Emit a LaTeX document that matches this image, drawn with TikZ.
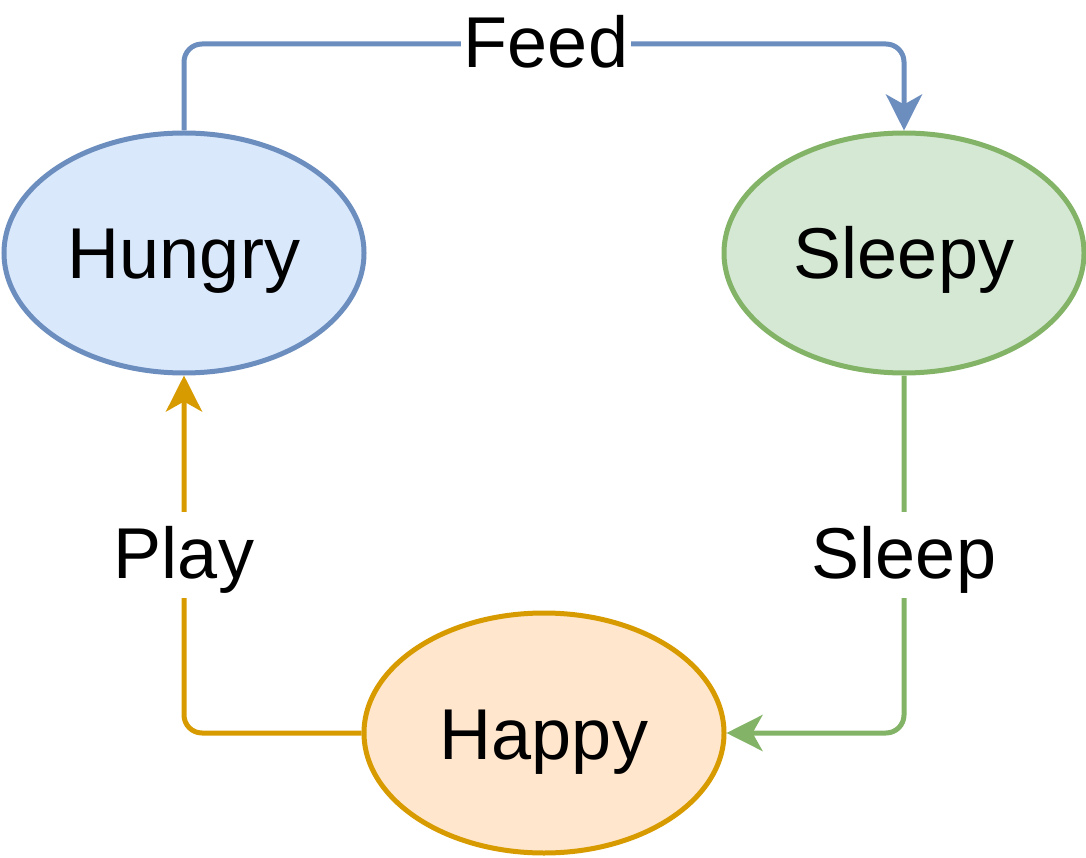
\documentclass[tikz,border=0pt]{standalone}
\usepackage{fontspec}
\setmainfont{Liberation Sans}
\usetikzlibrary{arrows.meta,shapes.geometric}
\definecolor{bstroke}{HTML}{6C8EBF}
\definecolor{bfill}{HTML}{DAE8FC}
\definecolor{gstroke}{HTML}{82B366}
\definecolor{gfill}{HTML}{D5E8D4}
\definecolor{ostroke}{HTML}{D79B00}
\definecolor{ofill}{HTML}{FFE6CC}
\begin{document}
\begin{tikzpicture}[x=1pt,y=-1pt,
  state/.style={ellipse, draw, line width=5pt, minimum width=360pt, minimum height=240pt, inner sep=0pt, text height=52pt, text depth=0pt, font=\fontsize{72}{80}\selectfont},
  conn/.style={line width=5pt, rounded corners=18pt, -{Stealth[length=36pt,width=36pt,inset=10pt]}},
  lbl/.style={fill=white, inner xsep=3pt, inner ysep=5pt, text height=61pt, text depth=15pt, anchor=base, font=\fontsize{72}{80}\selectfont}]
\useasboundingbox (0,0) rectangle (1086,858);
\node[state, draw=bstroke, fill=bfill] (hungry) at (184,253) {Hungry};
\node[state, draw=gstroke, fill=gfill] (sleepy) at (904,253) {Sleepy};
\node[state, draw=ostroke, fill=ofill] (happy) at (544,733) {Happy};
\coordinate (c1) at (184,44);
\coordinate (c2) at (904,44);
\coordinate (c3) at (904,733);
\coordinate (c4) at (184,733);
\draw[conn, bstroke] (hungry.north) -- (c1) -- (c2) -- (sleepy.north);
\draw[conn, gstroke] (sleepy.south) -- (c3) -- (happy.east);
\draw[conn, ostroke] (happy.west) -- (c4) -- (hungry.south);
\node[lbl] (feed) at (546,68) {Feed};
\node[lbl] (sleep) at (904,578) {Sleep};
\node[lbl] (play) at (184,578) {Play};
\end{tikzpicture}
\end{document}
